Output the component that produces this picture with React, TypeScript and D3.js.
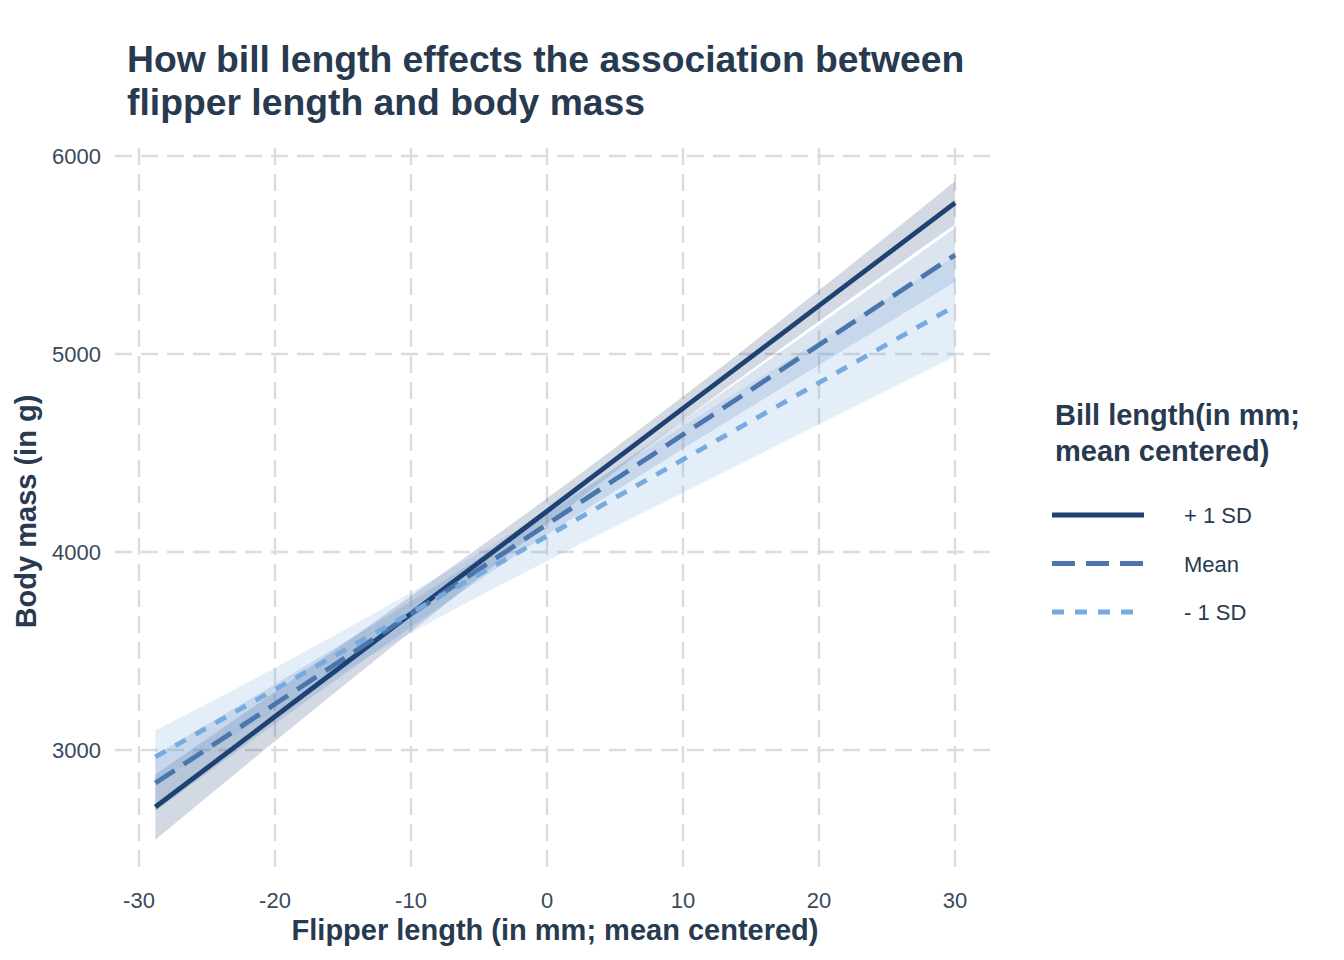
import React from "react";
import * as d3 from "d3";

// ---- Data ----
const xGrid = [-28.8, -20, -10, 0, 10, 20, 30];

const plusFit = [2712, 3169, 3688, 4206, 4725, 5244, 5763];
const plusLower = [2547, 3044, 3598, 4141, 4665, 5166, 5654];
const plusUpper = [2877, 3294, 3778, 4271, 4785, 5322, 5872];

const meanFit = [2833, 3232, 3686, 4139, 4593, 5046, 5500];
const meanLower = [2691, 3132, 3621, 4087, 4521, 4944, 5364];
const meanUpper = [2975, 3332, 3751, 4191, 4665, 5148, 5636];

const minusFit = [2965, 3306, 3693, 4080, 4467, 4855, 5242];
const minusLower = [2832, 3197, 3591, 3955, 4299, 4645, 4989];
const minusUpper = [3098, 3415, 3795, 4205, 4635, 5065, 5495];

const seriesLabels = ["+ 1 SD", "Mean", "- 1 SD"];
const xTicks = [-30, -20, -10, 0, 10, 20, 30];
const yTicks = [3000, 4000, 5000, 6000];

const titleLines = [
  "How bill length effects the association between",
  "flipper length and body mass",
];
const xTitle = "Flipper length (in mm; mean centered)";
const yTitle = "Body mass (in g)";
const legendTitle = ["Bill length(in mm;", "mean centered)"];

// ---- Styles ----
const colors = ["#1e4274", "#4a76ad", "#77abe0"];
const dashes = ["none", "23 11", "12 11"];
const textColor = "#283a4f";
const font = "'Liberation Sans', Arial, Helvetica, sans-serif";

export default function App() {
  const W = 1344;
  const H = 960;
  const panel = { left: 115, right: 995, top: 148, bottom: 875 };

  const x = d3.scaleLinear().domain([-30, 30]).range([139, 955]);
  const y = d3.scaleLinear().domain([3000, 6000]).range([750, 156]);

  const series = [
    { fit: plusFit, lo: plusLower, hi: plusUpper },
    { fit: meanFit, lo: meanLower, hi: meanUpper },
    { fit: minusFit, lo: minusLower, hi: minusUpper },
  ];

  const area = (lo: number[], hi: number[]) =>
    d3
      .area<number>()
      .x((d) => x(d))
      .y0((_, i) => y(lo[i]))
      .y1((_, i) => y(hi[i]))
      .curve(d3.curveMonotoneX)(xGrid) as string;

  const line = (fit: number[]) =>
    d3
      .line<number>()
      .x((d) => x(d))
      .y((_, i) => y(fit[i]))(xGrid) as string;

  const gridColor = "#dcdcdc";

  return (
    <svg
      width={W}
      height={H}
      style={{ position: "absolute", left: 0, top: 0, background: "#fff" }}
      fontFamily={font}
    >
      <rect x={0} y={0} width={W} height={H} fill="#fff" />
      {/* grid */}
      <g stroke={gridColor} strokeWidth={2.4} strokeDasharray="17 9">
        {yTicks.map((t) => (
          <line key={"h" + t} x1={panel.left} x2={panel.right - 5} y1={y(t)} y2={y(t)} />
        ))}
        {xTicks.map((t) => (
          <line key={"v" + t} x1={x(t)} x2={x(t)} y1={panel.top} y2={panel.bottom} />
        ))}
      </g>

      {/* bands */}
      {series.map((s, i) => (
        <path key={"b" + i} d={area(s.lo, s.hi)} fill={colors[i]} fillOpacity={0.2} stroke="none" />
      ))}

      {/* lines */}
      {series.map((s, i) => (
        <path
          key={"l" + i}
          d={line(s.fit)}
          fill="none"
          stroke={colors[i]}
          strokeWidth={4.8}
          strokeDasharray={dashes[i]}
        />
      ))}

      {/* axis tick labels */}
      <g fill={textColor} fontSize={22} opacity={0.92}>
        {xTicks.map((t) => (
          <text key={"xt" + t} x={x(t)} y={908} textAnchor="middle">
            {t}
          </text>
        ))}
        {yTicks.map((t) => (
          <text key={"yt" + t} x={101} y={y(t) + 8} textAnchor="end">
            {t}
          </text>
        ))}
      </g>

      {/* axis titles */}
      <text
        x={(panel.left + panel.right) / 2}
        y={940}
        textAnchor="middle"
        fontSize={29}
        fontWeight="bold"
        fill={textColor}
      >
        {xTitle}
      </text>
      <text
        transform={`translate(36, ${(panel.top + panel.bottom) / 2}) rotate(-90)`}
        textAnchor="middle"
        fontSize={29}
        fontWeight="bold"
        fill={textColor}
      >
        {yTitle}
      </text>

      {/* title */}
      {titleLines.map((l, i) => (
        <text key={"t" + i} x={127} y={72 + i * 43} fontSize={37.3} fontWeight="bold" fill={textColor}>
          {l}
        </text>
      ))}

      {/* legend */}
      {legendTitle.map((l, i) => (
        <text key={"lt" + i} x={1055} y={425 + i * 36} fontSize={29} fontWeight="bold" fill={textColor}>
          {l}
        </text>
      ))}
      {seriesLabels.map((lab, i) => (
        <g key={"lg" + i}>
          <line
            x1={1052}
            x2={1144}
            y1={515 + i * 48.5}
            y2={515 + i * 48.5}
            stroke={colors[i]}
            strokeWidth={4.8}
            strokeDasharray={dashes[i]}
          />
          <text x={1184} y={523 + i * 48.5} fontSize={22} fill={textColor}>
            {lab}
          </text>
        </g>
      ))}
    </svg>
  );
}
